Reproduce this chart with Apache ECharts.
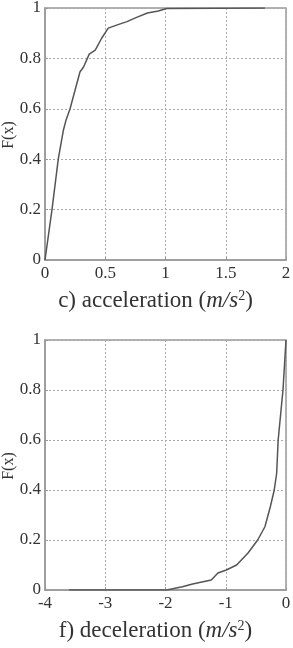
<!DOCTYPE html>
<html><head><meta charset="utf-8">
<script src="https://cdn.jsdelivr.net/npm/echarts@6/dist/echarts.min.js"></script>
<style>html,body{margin:0;padding:0;background:#fff}#c{width:293px;height:648px}</style>
</head><body><div id="c"></div>
<script>
var accX = [0, 0.058, 0.11, 0.153, 0.175, 0.208, 0.29, 0.32, 0.367, 0.417, 0.47, 0.525, 0.6, 0.68, 0.76, 0.85, 0.94, 1.01, 1.825];
var accY = [0, 0.2, 0.4, 0.516, 0.556, 0.6, 0.746, 0.766, 0.817, 0.833, 0.88, 0.92, 0.933, 0.946, 0.963, 0.98, 0.988, 0.998, 1.0];
var decX = [-3.6, -1.98, -1.72, -1.55, -1.24, -1.13, -0.99, -0.82, -0.63, -0.47, -0.35, -0.26, -0.195, -0.155, -0.13, -0.05, 0];
var decY = [0, 0, 0.013, 0.024, 0.04, 0.068, 0.08, 0.1, 0.148, 0.2, 0.253, 0.333, 0.4, 0.467, 0.6, 0.8, 1];
var yTicks = [0, 0.2, 0.4, 0.6, 0.8, 1];
var accTicks = [0, 0.5, 1, 1.5, 2];
var decTicks = [-4, -3, -2, -1, 0];
var accTitle = ['c) acceleration (', 'm/s', '2', ')'];
var decTitle = ['f) deceleration (', 'm/s', '2', ')'];
var yName = 'F(x)';

var FONT = '"Liberation Serif", "DejaVu Serif", serif';
var TXT = '#333';
function pairs(xs, ys){ return xs.map(function(x,i){ return [x, ys[i]]; }); }
function richName(t){ return '{n|' + t[0] + '}{i|' + t[1] + '}{s|' + t[2] + '}{n|' + t[3] + '}'; }
var rich = {
  n: {fontFamily: FONT, fontSize: 23, color: TXT},
  i: {fontFamily: FONT, fontSize: 23, fontStyle: 'italic', color: TXT},
  s: {fontFamily: FONT, fontSize: 14, color: TXT, verticalAlign: 'top', padding: [0,0,10,0]}
};
function xAx(idx, ticks, title){
  return {
    gridIndex: idx, type: 'value', min: ticks[0], max: ticks[ticks.length-1],
    interval: ticks[1]-ticks[0],
    name: richName(title), nameLocation: 'middle', nameGap: 29,
    nameTextStyle: {rich: rich, padding: [0, 20, 0, 0]},
    axisLine: {show: true, onZero: false, lineStyle: {color: '#999', width: 1.5}},
    axisTick: {show: true, inside: true, length: 3, lineStyle: {color: '#999'}},
    axisLabel: {fontFamily: FONT, fontSize: 17, color: TXT, margin: 5},
    splitLine: {show: true, lineStyle: {color: '#aaa', type: [2, 2], width: 1}}
  };
}
function yAx(idx){
  return {
    gridIndex: idx, type: 'value', min: 0, max: 1, interval: 0.2,
    axisLine: {show: true, onZero: false, lineStyle: {color: '#999', width: 1.5}},
    axisTick: {show: true, inside: true, length: 3, lineStyle: {color: '#999'}},
    axisLabel: {fontFamily: FONT, fontSize: 17, color: TXT, margin: 4},
    splitLine: {show: true, lineStyle: {color: '#aaa', type: [2, 2], width: 1}}
  };
}
function yLabel(cy){
  return {type: 'text', x: 9, y: cy, rotation: Math.PI / 2,
    style: {text: yName, font: '16px ' + FONT, fill: TXT, align: 'center', verticalAlign: 'middle'}};
}
var chart = echarts.init(document.getElementById('c'), null, {renderer: 'canvas'});
chart.setOption({
  animation: false,
  backgroundColor: '#fff',
  textStyle: {fontFamily: FONT},
  grid: [
    {left: 45, right: 7, top: 8, height: 252, show: true, borderColor: '#999', borderWidth: 1.5, containLabel: false, outerBoundsMode: 'none'},
    {left: 45, right: 7, top: 340, height: 250, show: true, borderColor: '#999', borderWidth: 1.5, containLabel: false, outerBoundsMode: 'none'}
  ],
  graphic: [yLabel(135), yLabel(466)],
  xAxis: [xAx(0, accTicks, accTitle), xAx(1, decTicks, decTitle)],
  yAxis: [yAx(0), yAx(1)],
  series: [
    {type: 'line', xAxisIndex: 0, yAxisIndex: 0, data: pairs(accX, accY), showSymbol: false, symbol: 'none',
     lineStyle: {color: '#555', width: 1.5}},
    {type: 'line', xAxisIndex: 1, yAxisIndex: 1, data: pairs(decX, decY), showSymbol: false, symbol: 'none',
     lineStyle: {color: '#555', width: 1.5}}
  ]
});
</script></body></html>
